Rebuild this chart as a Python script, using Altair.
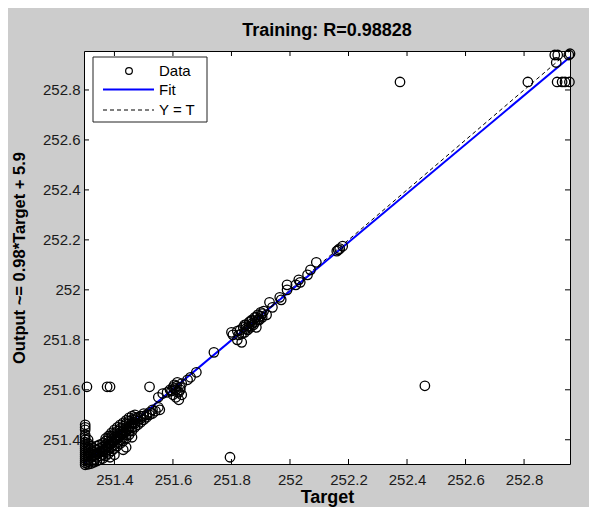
import altair as alt
import pandas as pd

# ---- data ----
target = [
    # left column
    251.300, 251.300, 251.300, 251.300, 251.300, 251.300, 251.300, 251.300, 251.300, 251.300,
    251.300, 251.300, 251.300, 251.300, 251.300, 251.300, 251.300, 251.300,
    251.310, 251.310, 251.310, 251.310, 251.310, 251.310, 251.310, 251.310, 251.310,
    251.320, 251.320, 251.320, 251.320, 251.320, 251.320,
    # main band
    251.330, 251.330, 251.330, 251.330, 251.330,
    251.340, 251.340, 251.340, 251.340, 251.340,
    251.350, 251.350, 251.350, 251.350, 251.350,
    251.360, 251.360, 251.360, 251.360, 251.360,
    251.370, 251.370, 251.370, 251.370, 251.370,
    251.380, 251.380, 251.380, 251.380, 251.380,
    251.390, 251.390, 251.390, 251.390, 251.390,
    251.400, 251.400, 251.400, 251.400, 251.400,
    251.410, 251.410, 251.410, 251.410, 251.410,
    251.420, 251.420, 251.420, 251.420, 251.420,
    251.430, 251.430, 251.430, 251.430, 251.430,
    251.440, 251.440, 251.440, 251.440, 251.440,
    251.450, 251.450, 251.450, 251.450, 251.450,
    251.460, 251.460, 251.460, 251.460,
    251.470, 251.470, 251.470, 251.470,
    251.480, 251.480, 251.480,
    251.490, 251.490, 251.490,
    251.500, 251.500, 251.500,
    251.510, 251.510, 251.520, 251.520, 251.530, 251.530, 251.540, 251.550,
    # half steps in the band
    251.335, 251.345, 251.355, 251.365, 251.375, 251.385, 251.395, 251.405, 251.415, 251.425,
    251.435, 251.445, 251.455, 251.465, 251.475,
    # upper edge of the band
    251.370, 251.380, 251.390, 251.400, 251.410, 251.420, 251.430, 251.440, 251.450, 251.460,
    251.470,
    # below band
    251.385, 251.400, 251.430, 251.440, 251.460, 251.555,
    # row at 251.61
    251.306, 251.375, 251.385, 251.520,
    # around 251.6
    251.550, 251.565, 251.580, 251.590, 251.600, 251.600, 251.605, 251.610, 251.610, 251.615,
    251.620, 251.620, 251.625, 251.630, 251.630, 251.595, 251.605, 251.615, 251.625, 251.612,
    251.650, 251.660, 251.680, 251.740, 251.795,
    # around 251.85
    251.800, 251.805, 251.820, 251.835, 251.820, 251.830, 251.840, 251.845, 251.850, 251.855,
    251.860, 251.865, 251.870, 251.875, 251.880, 251.885, 251.890, 251.895, 251.900, 251.905,
    251.910, 251.920, 251.825, 251.835, 251.850, 251.860, 251.870, 251.880, 251.890, 251.900,
    251.845, 251.865, 251.885, 251.905,
    251.930, 251.940, 251.965, 251.970, 251.990, 251.990, 252.030, 252.035,
    252.020, 252.060, 252.070, 252.090, 252.160, 252.165, 252.170, 252.180,
    # top right and outliers
    252.376, 252.461, 252.813, 252.905, 252.915, 252.910, 252.953, 252.957, 252.913, 252.930,
    252.940, 252.955,
]
output = [
    # left column
    251.300, 251.308, 251.316, 251.324, 251.332, 251.340, 251.348, 251.356, 251.364, 251.372,
    251.380, 251.390, 251.400, 251.410, 251.420, 251.440, 251.450, 251.460,
    251.302, 251.312, 251.322, 251.334, 251.346, 251.358, 251.370, 251.385, 251.400,
    251.305, 251.315, 251.330, 251.345, 251.360, 251.375,
    # main band
    251.310, 251.320, 251.335, 251.350, 251.365,
    251.315, 251.330, 251.345, 251.360, 251.375,
    251.320, 251.335, 251.350, 251.365, 251.380,
    251.325, 251.340, 251.355, 251.370, 251.385,
    251.335, 251.350, 251.365, 251.380, 251.395,
    251.345, 251.360, 251.375, 251.390, 251.405,
    251.355, 251.370, 251.385, 251.400, 251.415,
    251.365, 251.380, 251.395, 251.410, 251.425,
    251.375, 251.390, 251.405, 251.420, 251.435,
    251.385, 251.400, 251.415, 251.430, 251.445,
    251.395, 251.410, 251.425, 251.440, 251.455,
    251.405, 251.420, 251.435, 251.450, 251.465,
    251.420, 251.435, 251.450, 251.465, 251.475,
    251.435, 251.450, 251.465, 251.480,
    251.450, 251.465, 251.480, 251.490,
    251.460, 251.475, 251.490,
    251.470, 251.485, 251.495,
    251.480, 251.495, 251.505,
    251.490, 251.500, 251.500, 251.510, 251.505, 251.520, 251.515, 251.530,
    # half steps in the band
    251.340, 251.345, 251.355, 251.360, 251.375, 251.385, 251.390, 251.405, 251.415, 251.425,
    251.430, 251.445, 251.455, 251.470, 251.485,
    # upper edge of the band
    251.405, 251.415, 251.428, 251.440, 251.450, 251.460, 251.468, 251.478, 251.488, 251.495,
    251.500,
    # below band
    251.330, 251.340, 251.360, 251.370, 251.410, 251.520,
    # row at 251.61
    251.612, 251.612, 251.612, 251.612,
    # around 251.6
    251.570, 251.585, 251.590, 251.600, 251.610, 251.580, 251.620, 251.600, 251.570, 251.630,
    251.590, 251.560, 251.610, 251.580, 251.625, 251.595, 251.605, 251.590, 251.600, 251.615,
    251.640, 251.650, 251.670, 251.750, 251.330,
    # around 251.85
    251.830, 251.820, 251.800, 251.790, 251.835, 251.840, 251.850, 251.830, 251.860, 251.840,
    251.870, 251.850, 251.880, 251.860, 251.890, 251.850, 251.900, 251.880, 251.910, 251.890,
    251.915, 251.900, 251.820, 251.825, 251.845, 251.855, 251.865, 251.870, 251.880, 251.895,
    251.860, 251.875, 251.890, 251.905,
    251.950, 251.930, 251.970, 251.960, 252.020, 252.000, 252.040, 252.030,
    252.020, 252.060, 252.080, 252.110, 252.155, 252.160, 252.165, 252.175,
    # top right and outliers
    252.832, 251.616, 252.832, 252.940, 252.940, 252.910, 252.940, 252.945, 252.832, 252.832,
    252.832, 252.832,
]

fit_x = [251.296, 252.957]
fit_y = [251.305, 252.932]
ident_x = [251.296, 252.957]
ident_y = [251.296, 252.957]

tick_values = [251.4, 251.6, 251.8, 252.0, 252.2, 252.4, 252.6, 252.8]
x_domain = [251.296, 252.957]
y_domain = [251.303, 252.956]

legend_labels = ["Data", "Fit", "Y = T"]

W, H = 486, 413
FONT = "Liberation Sans"

pts = pd.DataFrame({"target": target, "output": output})
fit_df = pd.DataFrame({"target": fit_x, "output": fit_y})
ident_df = pd.DataFrame({"target": ident_x, "output": ident_y})
ticks_df = pd.DataFrame({"target": tick_values, "output": tick_values})

xs = alt.Scale(domain=x_domain, nice=False, zero=False)
ys = alt.Scale(domain=y_domain, nice=False, zero=False)

x_axis = alt.Axis(
    values=tick_values, format=".4~r", ticks=False, domain=False, grid=False,
    labelFont=FONT, labelFontSize=15, labelColor="#1a1a1a", labelPadding=8,
    title="Target", titleFont=FONT, titleFontSize=18, titleFontWeight="bold",
    titleColor="black", titleBaseline="alphabetic", titleY=38, titleX=W / 2,
)
y_axis = alt.Axis(
    values=tick_values, format=".4~r", ticks=False, domain=False, grid=False,
    labelFont=FONT, labelFontSize=15, labelColor="#1a1a1a", labelPadding=4,
    title="Output ~= 0.98*Target + 5.9", titleFont=FONT, titleFontSize=16.5,
    titleFontWeight="bold", titleColor="black", titleAngle=-90,
    titleBaseline="alphabetic", titleAlign="center", titleX=-60, titleY=H / 2,
)

X = alt.X("target:Q", scale=xs, axis=x_axis)
Y = alt.Y("output:Q", scale=ys, axis=y_axis)

ident = alt.Chart(ident_df).mark_line(
    color="black", strokeWidth=1, strokeDash=[4, 3]
).encode(x=X, y=Y)

fit = alt.Chart(fit_df).mark_line(color="#0000ff", strokeWidth=2).encode(x=X, y=Y)

points = alt.Chart(pts).mark_point(
    shape="circle", filled=False, color="black", size=90, strokeWidth=1.3, opacity=1
).encode(x=X, y=Y)

tick_style = dict(color="black", strokeWidth=1)
t_bottom = alt.Chart(ticks_df).mark_rule(**tick_style).encode(
    x=X, y=alt.value(H), y2=alt.value(H - 5))
t_top = alt.Chart(ticks_df).mark_rule(**tick_style).encode(
    x=X, y=alt.value(0), y2=alt.value(5))
t_left = alt.Chart(ticks_df).mark_rule(**tick_style).encode(
    y=Y, x=alt.value(0), x2=alt.value(5))
t_right = alt.Chart(ticks_df).mark_rule(**tick_style).encode(
    y=Y, x=alt.value(W), x2=alt.value(W - 5))

# legend box (decoration)
leg_df = pd.DataFrame({"label": legend_labels})
leg_box = alt.Chart(leg_df.head(1)).mark_rect(
    fill="white", stroke="#222222", strokeWidth=1
).encode(x=alt.value(9), x2=alt.value(123), y=alt.value(6), y2=alt.value(71))
leg_rows_y = [20, 38.5, 59]
leg_texts = []
for lab, yy in zip(legend_labels, leg_rows_y):
    leg_texts.append(
        alt.Chart(leg_df[leg_df.label == lab]).mark_text(
            align="left", baseline="middle", font=FONT, fontSize=15, color="black"
        ).encode(text="label:N", x=alt.value(75), y=alt.value(yy))
    )
leg_circle = alt.Chart(leg_df.head(1)).mark_point(
    shape="circle", filled=False, color="black", size=45, strokeWidth=1.2, opacity=1
).encode(x=alt.value(45), y=alt.value(leg_rows_y[0]))
leg_fit = alt.Chart(leg_df.head(1)).mark_rule(color="#0000ff", strokeWidth=2).encode(
    x=alt.value(19), x2=alt.value(70), y=alt.value(leg_rows_y[1]))
leg_ident = alt.Chart(leg_df.head(1)).mark_rule(
    color="black", strokeWidth=1, strokeDash=[4, 3]
).encode(x=alt.value(19), x2=alt.value(70), y=alt.value(leg_rows_y[2]))

chart = alt.layer(
    ident, fit, points, t_bottom, t_top, t_left, t_right,
    leg_box, *leg_texts, leg_circle, leg_fit, leg_ident,
).properties(
    width=W, height=H,
    title=alt.TitleParams(
        "Training: R=0.98828", font=FONT, fontSize=18, fontWeight="bold",
        color="black", anchor="middle", offset=6,
    ),
    autosize=alt.AutoSizeParams(type="none"),
    padding={"left": 76, "top": 43, "right": 19, "bottom": 43},
    background="#cccccc",
).configure_view(fill="white", stroke="black", strokeWidth=1)

chart.save("out.html", embed_options={"renderer": "svg", "actions": False})
